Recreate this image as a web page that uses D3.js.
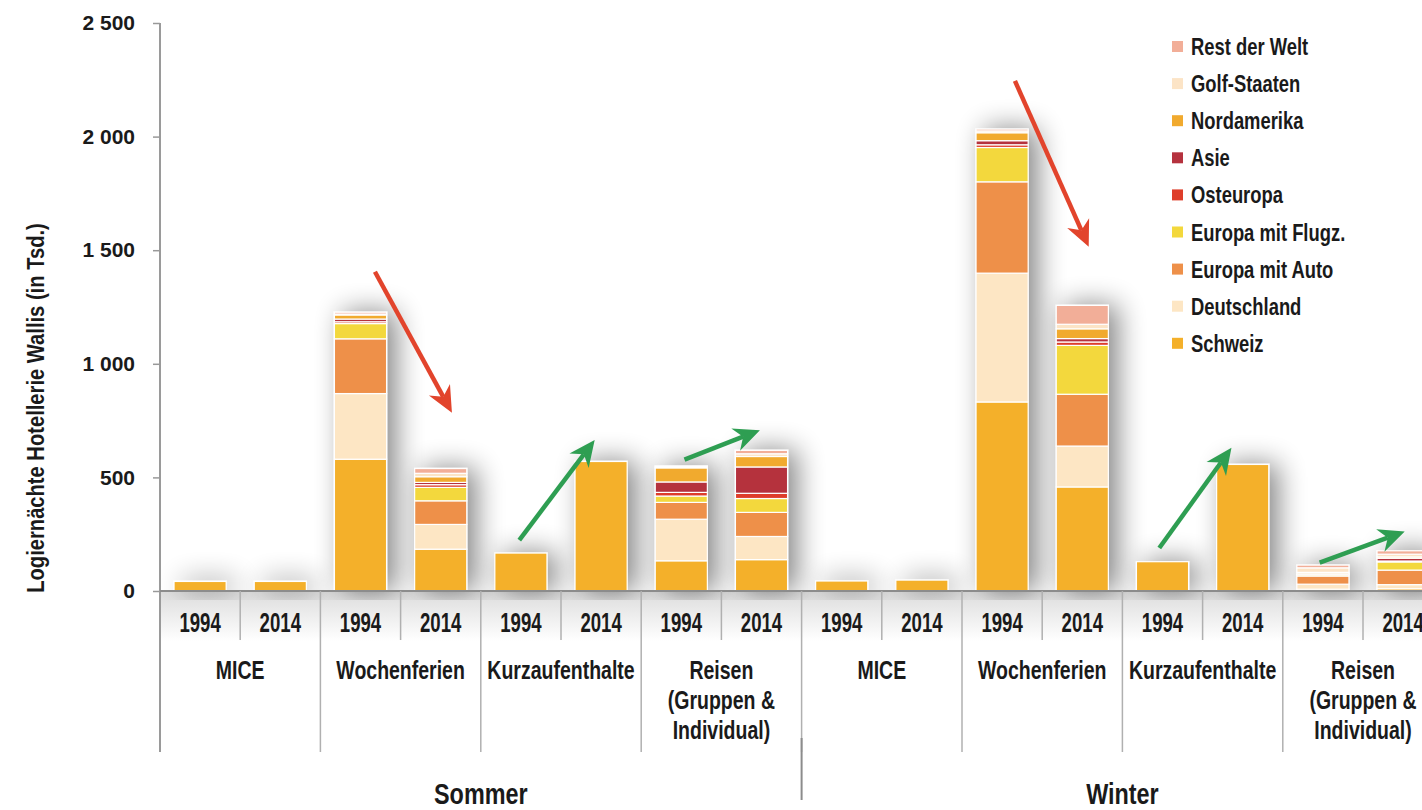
<!DOCTYPE html>
<html>
<head>
<meta charset="utf-8">
<script src="https://cdn.jsdelivr.net/npm/d3@7"></script>
<style>
  body { margin: 0; background: #fff; }
  svg { display: block; }
  text { fill: #1a1a1a; }
</style>
</head>
<body>
<svg id="chart" width="1422" height="810"></svg>
<script>
// one bar per season / segment / year
var seasons = ["Sommer", "Winter"];
var segments = ["MICE", "Wochenferien", "Kurzaufenthalte", "Reisen"];
var segmentLines = {
  "MICE": ["MICE"],
  "Wochenferien": ["Wochenferien"],
  "Kurzaufenthalte": ["Kurzaufenthalte"],
  "Reisen": ["Reisen", "(Gruppen &", "Individual)"]
};
var years = ["1994", "2014"];

// values in thousand nights, same bar order as above
var regions = ["Schweiz", "Deutschland", "Europa mit Auto", "Europa mit Flugz.", "Osteuropa", "Asie", "Nordamerika", "Golf-Staaten", "Rest der Welt"];
var schweiz     = [42, 42, 580, 184, 167, 570, 133, 138, 44, 48, 832, 458, 129, 557, 8, 10];
var deutschland = [0, 0, 289, 109, 0, 0, 183, 102, 0, 0, 567, 180, 0, 0, 22, 18];
var europaAuto  = [0, 0, 241, 104, 0, 0, 74, 106, 0, 0, 402, 228, 0, 0, 36, 64];
var europaFlug  = [0, 0, 67, 59, 0, 0, 28, 61, 0, 0, 151, 215, 0, 0, 6, 36];
var osteuropa   = [0, 0, 8, 12, 0, 0, 16, 23, 0, 0, 12, 15, 0, 0, 2, 4];
var asie        = [0, 0, 12, 10, 0, 0, 46, 116, 0, 0, 18, 15, 0, 0, 2, 12];
var nordamerika = [0, 0, 18, 25, 0, 0, 62, 46, 0, 0, 35, 43, 0, 0, 6, 6];
var golf        = [0, 0, 4, 15, 0, 0, 4, 12, 0, 0, 8, 20, 0, 0, 20, 12];
var rest        = [0, 0, 8, 21, 0, 0, 4, 15, 0, 0, 8, 83, 0, 0, 12, 15];
var series = [schweiz, deutschland, europaAuto, europaFlug, osteuropa, asie, nordamerika, golf, rest];

var colors = ["#F4B02A", "#FDE6C4", "#EE9049", "#F3D83C", "#DE3E2A", "#B5323E", "#F1AA2E", "#FCE4C6", "#F2AE98"];

var yTicks = [0, 500, 1000, 1500, 2000, 2500];

// trend arrows: bar group (0..7), start/end as fraction of group, start/end value
var arrows = [
  {group: 1, u0: 0.34, v0: 1405, u1: 0.82, v1: 785, color: "#E2442C"},
  {group: 2, u0: 0.24, v0: 224, u1: 0.71, v1: 665, color: "#2E9E52"},
  {group: 3, u0: 0.27, v0: 578, u1: 0.74, v1: 708, color: "#2E9E52"},
  {group: 5, u0: 0.33, v0: 2245, u1: 0.79, v1: 1515, color: "#E2442C"},
  {group: 6, u0: 0.23, v0: 189, u1: 0.68, v1: 630, color: "#2E9E52"},
  {group: 7, u0: 0.23, v0: 125, u1: 0.76, v1: 262, color: "#2E9E52"}
];

var bars = [];
seasons.forEach(s => segments.forEach(g => years.forEach(y => bars.push(s + "|" + g + "|" + y))));

var svg = d3.select("#chart");
var left = 160, zeroY = 591, topY = 23;
var slot = 80.2;
var font = "'Liberation Sans', Arial, sans-serif";

var x = d3.scaleBand()
  .domain(bars)
  .range([left, left + slot * bars.length])
  .paddingInner(0.35)
  .paddingOuter(0.175);

var y = d3.scaleLinear()
  .domain([0, 2500])
  .range([zeroY, topY]);

// condensed label: regular font squeezed horizontally
function label(sel, lx, ly, txt, size, sx, anchor) {
  return sel.append("text")
    .attr("transform", `translate(${lx},${ly}) scale(${sx},1)`)
    .attr("text-anchor", anchor || "middle")
    .attr("font-family", font)
    .attr("font-weight", "bold")
    .attr("font-size", size)
    .text(txt);
}

var defs = svg.append("defs");
var shadow = defs.append("filter")
  .attr("id", "shadow")
  .attr("filterUnits", "userSpaceOnUse")
  .attr("x", 0).attr("y", 0)
  .attr("width", 1422).attr("height", 600);
shadow.append("feGaussianBlur").attr("in", "SourceAlpha").attr("stdDeviation", 14).attr("result", "blur");
shadow.append("feOffset").attr("in", "blur").attr("dx", 9).attr("dy", 0).attr("result", "off");
shadow.append("feComponentTransfer").attr("in", "off").attr("result", "soft")
  .append("feFuncA").attr("type", "linear").attr("slope", 0.48);
var merge = shadow.append("feMerge");
merge.append("feMergeNode").attr("in", "soft");
merge.append("feMergeNode").attr("in", "SourceGraphic");

var grad = defs.append("linearGradient")
  .attr("id", "band").attr("x1", 0).attr("x2", 0).attr("y1", 0).attr("y2", 1);
grad.append("stop").attr("offset", "0%").attr("stop-color", "#dcdcdc");
grad.append("stop").attr("offset", "100%").attr("stop-color", "#ffffff");

svg.append("rect")
  .attr("x", left).attr("y", zeroY)
  .attr("width", 1422 - left).attr("height", 50)
  .attr("fill", "url(#band)");

// stacked bars
var table = bars.map((b, i) => {
  let row = {key: b};
  regions.forEach((r, j) => row[r] = series[j][i]);
  return row;
});
var stacked = d3.stack().keys(regions)(table);

var barGroups = svg.append("g")
  .selectAll("g")
  .data(bars)
  .enter()
  .append("g")
  .attr("filter", "url(#shadow)");

barGroups.selectAll("rect")
  .data((b, i) => stacked.map((layer, j) => ({key: b, lo: layer[i][0], hi: layer[i][1], color: colors[j]})).filter(d => d.hi > d.lo))
  .enter()
  .append("rect")
  .attr("x", d => x(d.key))
  .attr("width", x.bandwidth())
  .attr("y", d => y(d.hi))
  .attr("height", d => y(d.lo) - y(d.hi))
  .attr("fill", d => d.color)
  .attr("stroke", "#fff")
  .attr("stroke-width", 1.2);

// y axis
var yAxis = d3.axisLeft(y)
  .tickValues(yTicks)
  .tickSize(7)
  .tickPadding(18)
  .tickFormat(d => d3.format(",")(d).replace(",", " "));

var yg = svg.append("g")
  .attr("transform", `translate(${left},0)`)
  .call(yAxis);
yg.select(".domain").remove();
yg.selectAll(".tick line").attr("stroke", "#999").attr("stroke-width", 1.5);
yg.selectAll(".tick text")
  .attr("font-family", font)
  .attr("font-weight", "bold")
  .attr("font-size", 21)
  .attr("fill", "#1a1a1a");

svg.append("line")
  .attr("x1", left).attr("x2", left)
  .attr("y1", topY).attr("y2", 752)
  .attr("stroke", "#9a9a9a").attr("stroke-width", 2);

svg.append("line")
  .attr("x1", left).attr("x2", 1422)
  .attr("y1", zeroY).attr("y2", zeroY)
  .attr("stroke", "#8c8c8c").attr("stroke-width", 2);

svg.append("text")
  .attr("transform", "translate(44,408) rotate(-90) scale(0.84,1)")
  .attr("text-anchor", "middle")
  .attr("font-family", font)
  .attr("font-weight", "bold")
  .attr("font-size", 24)
  .text("Logiernächte Hotellerie Wallis (in Tsd.)");

// x labels
var step = x.step();
var xl = svg.append("g");

bars.forEach((b, i) => {
  let yr = b.split("|")[2];
  let cx = x(b) + x.bandwidth() / 2;
  label(xl, cx, 632, yr, 27, 0.69);
  if (i % 2 == 1) {
    let sx = x(b) - (step - x.bandwidth()) / 2;
    xl.append("line")
      .attr("x1", sx).attr("x2", sx)
      .attr("y1", zeroY).attr("y2", 640)
      .attr("stroke", "#b0b0b0").attr("stroke-width", 1.5);
  }
});

for (let g = 0; g < seasons.length * segments.length; g++) {
  let gx = left + g * 2 * step;
  let name = segments[g % segments.length];
  if (g > 0) {
    xl.append("line")
      .attr("x1", gx).attr("x2", gx)
      .attr("y1", zeroY).attr("y2", 752)
      .attr("stroke", "#b0b0b0").attr("stroke-width", 1.5);
  }
  segmentLines[name].forEach((line, k) => {
    label(xl, gx + step, 679 + k * 30, line, 25, 0.78);
  });
}

seasons.forEach((s, k) => {
  let sx = left + k * 8 * step;
  if (k > 0) {
    xl.append("line")
      .attr("x1", sx).attr("x2", sx)
      .attr("y1", 738).attr("y2", 800)
      .attr("stroke", "#8c8c8c").attr("stroke-width", 2);
  }
  label(xl, sx + 4 * step, 804, s, 30, 0.78);
});

// arrows
function arrow(a) {
  let gx = left + a.group * 2 * step;
  let x0 = gx + a.u0 * 2 * step, y0 = y(a.v0);
  let x1 = gx + a.u1 * 2 * step, y1 = y(a.v1);
  let ang = Math.atan2(y1 - y0, x1 - x0);
  let len = 26, half = 12, notch = 8;
  let bx = x1 - len * Math.cos(ang), by = y1 - len * Math.sin(ang);
  let nx = x1 - (len - notch) * Math.cos(ang), ny = y1 - (len - notch) * Math.sin(ang);
  let px = -Math.sin(ang), py = Math.cos(ang);
  let g = svg.append("g");
  g.append("line")
    .attr("x1", x0).attr("y1", y0)
    .attr("x2", nx).attr("y2", ny)
    .attr("stroke", a.color).attr("stroke-width", 4.5);
  g.append("path")
    .attr("d", d3.line()([[x1, y1], [bx + px * half, by + py * half], [nx, ny], [bx - px * half, by - py * half]]) + "Z")
    .attr("fill", a.color);
}
arrows.forEach(arrow);

// legend
var legend = svg.append("g");
regions.slice().reverse().forEach((r, i) => {
  let ly = 47 + i * 37.1;
  legend.append("rect")
    .attr("x", 1172).attr("y", ly - 6)
    .attr("width", 11).attr("height", 11)
    .attr("fill", colors[regions.indexOf(r)]);
  label(legend, 1191, ly + 8, r, 23, 0.8, "start");
});
</script>
</body>
</html>
